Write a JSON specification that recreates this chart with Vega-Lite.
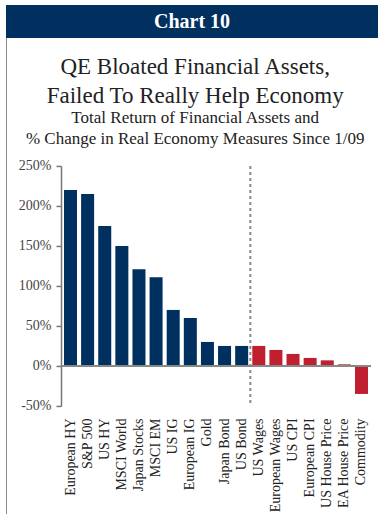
{
  "$schema": "https://vega.github.io/schema/vega-lite/v6.json",
  "padding": {"left": 6, "top": 5, "right": 0, "bottom": 0},
  "background": "white",
  "config": {"font": "Liberation Serif", "view": {"stroke": null}},
  "spacing": 0,
  "vconcat": [
    {
      "width": 372,
      "height": 33,
      "view": {"fill": "#00305f", "stroke": null},
      "data": {"values": [{"label": "Chart 10"}]},
      "mark": {"type": "text", "color": "white", "fontSize": 20, "fontWeight": "bold", "font": "Liberation Serif", "baseline": "middle", "align": "center"},
      "encoding": {"text": {"field": "label"}}
    },
    {
      "spacing": 11,
      "center": true,
      "hconcat": [
        {
          "width": 1,
          "height": 602,
          "view": {"fill": "#8a8a8a", "stroke": null},
          "data": {"values": [{"t": ""}]},
          "mark": {"type": "text"},
          "encoding": {"text": {"field": "t"}}
        },
        {
          "width": 310,
          "height": 240,
          "title": {
            "text": ["QE Bloated Financial Assets,", "Failed To Really Help Economy"],
            "subtitle": ["Total Return of Financial Assets and", "% Change in Real Economy Measures Since 1/09"],
            "anchor": "middle",
            "frame": "bounds",
            "font": "Liberation Serif",
            "subtitleFont": "Liberation Serif",
            "fontSize": 23,
            "fontWeight": "normal",
            "lineHeight": 29,
            "subtitleFontSize": 17,
            "subtitleLineHeight": 21,
            "subtitlePadding": 2,
            "offset": 12,
            "color": "#222222",
            "subtitleColor": "#222222"
          },
          "data": {
            "values": [
              {"measure": "European HY", "value": 220, "group": "Financial"},
              {"measure": "S&P 500", "value": 215, "group": "Financial"},
              {"measure": "US HY", "value": 175, "group": "Financial"},
              {"measure": "MSCI World", "value": 150, "group": "Financial"},
              {"measure": "Japan Stocks", "value": 121, "group": "Financial"},
              {"measure": "MSCI EM", "value": 111, "group": "Financial"},
              {"measure": "US IG", "value": 70, "group": "Financial"},
              {"measure": "European IG", "value": 60, "group": "Financial"},
              {"measure": "Gold", "value": 30, "group": "Financial"},
              {"measure": "Japan Bond", "value": 25, "group": "Financial"},
              {"measure": "US Bond", "value": 25, "group": "Financial"},
              {"measure": "US Wages", "value": 25, "group": "Economy"},
              {"measure": "European Wages", "value": 20, "group": "Economy"},
              {"measure": "US CPI", "value": 15, "group": "Economy"},
              {"measure": "European CPI", "value": 10, "group": "Economy"},
              {"measure": "US House Price", "value": 7, "group": "Economy"},
              {"measure": "EA House Price", "value": 2, "group": "Economy"},
              {"measure": "Commodity", "value": -35, "group": "Economy"}
            ]
          },
          "layer": [
            {
              "mark": {"type": "bar"},
              "encoding": {
                "x": {
                  "field": "measure",
                  "type": "nominal",
                  "sort": null,
                  "scale": {"paddingInner": 0.24, "paddingOuter": 0.175},
                  "axis": {
                    "title": null,
                    "labelAngle": -90,
                    "ticks": false,
                    "domain": false,
                    "labelPadding": 12,
                    "labelFontSize": 14,
                    "labelColor": "#222222",
                    "labelFont": "Liberation Serif"
                  }
                },
                "y": {
                  "field": "value",
                  "type": "quantitative",
                  "scale": {"domain": [-50, 250], "nice": false},
                  "axis": {
                    "title": null,
                    "values": [-50, 0, 50, 100, 150, 200, 250],
                    "tickCount": 12,
                    "labelExpr": "datum.value + '%'",
                    "labelOverlap": false,
                    "grid": false,
                    "domainColor": "#777777",
                    "domainWidth": 1.5,
                    "tickColor": "#777777",
                    "tickWidth": 1.5,
                    "tickSize": 5,
                    "labelFontSize": 14,
                    "labelColor": "#444444",
                    "labelFont": "Liberation Serif",
                    "labelPadding": 5
                  }
                },
                "color": {
                  "field": "group",
                  "type": "nominal",
                  "scale": {"domain": ["Financial", "Economy"], "range": ["#00305f", "#c01f30"]},
                  "legend": null
                }
              }
            },
            {
              "data": {"values": [{"zero": 0}]},
              "mark": {"type": "rule", "color": "#888888", "strokeWidth": 2},
              "encoding": {"y": {"field": "zero", "type": "quantitative"}}
            },
            {
              "transform": [{"filter": "datum.measure === 'US Wages'"}],
              "mark": {"type": "rule", "color": "#888888", "strokeWidth": 2, "strokeDash": [3, 3]},
              "encoding": {
                "x": {"field": "measure", "type": "nominal", "sort": null, "bandPosition": -0.15}
              }
            }
          ]
        }
      ]
    }
  ]
}
